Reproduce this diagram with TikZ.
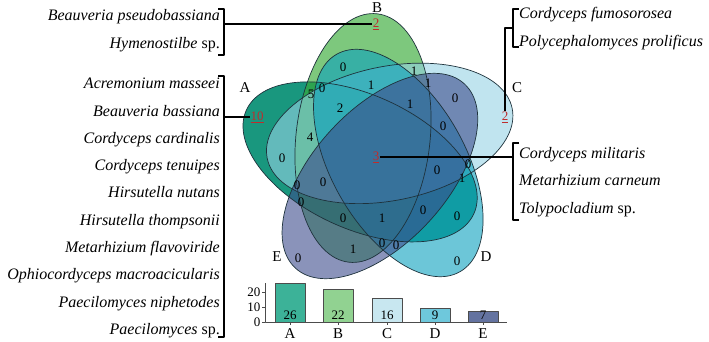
\documentclass[tikz,border=0pt]{standalone}
\usepackage{fontspec}
\setmainfont{Liberation Serif}
\usetikzlibrary{positioning}

\definecolor{setA}{RGB}{0,140,112}
\definecolor{setB}{RGB}{55,170,55}
\definecolor{setC}{RGB}{150,210,228}
\definecolor{setD}{RGB}{10,160,190}
\definecolor{setE}{RGB}{60,75,140}
\definecolor{barA}{RGB}{60,178,152}
\definecolor{barB}{RGB}{145,210,145}
\definecolor{barC}{RGB}{200,231,240}
\definecolor{barD}{RGB}{110,200,220}
\definecolor{barE}{RGB}{100,115,160}
\definecolor{outl}{RGB}{30,50,60}
\definecolor{hitred}{RGB}{190,45,45}

\begin{document}
\begin{tikzpicture}[x=1pt,y=-1pt,line join=round,
  venn/.style={draw=outl,line width=0.7pt},
  cnt/.style={font=\fontsize{13}{15}\selectfont,inner sep=0.5pt},
  hit/.style={cnt,text=hitred},
  spname/.style={font=\fontsize{16}{18}\selectfont\itshape,inner sep=0pt,
    text height=11pt,text depth=3.5pt},
  setlab/.style={font=\fontsize{15}{17}\selectfont,inner sep=0pt},
  brk/.style={line width=1.3pt,black},
  barline/.style={draw=black!70,line width=0.6pt}]
\useasboundingbox (0,0) rectangle (709,342);

\foreach \cx/\cy/\rot/\col/\op in {360.1/161.9/-24.5/setA/0.9, 363/138/83.5/setB/0.65,
    389.7/133.4/11.5/setC/0.6, 398.3/163/-60.5/setD/0.6, 379.9/176/47.5/setE/0.6}
  \fill[\col,opacity=\op,rotate around={\rot:(\cx,\cy)}] (\cx,\cy) ellipse [x radius=125pt,y radius=67pt];
\foreach \cx/\cy/\rot in {360.1/161.9/-24.5, 363/138/83.5, 389.7/133.4/11.5,
    398.3/163/-60.5, 379.9/176/47.5}
  \draw[venn,rotate around={\rot:(\cx,\cy)}] (\cx,\cy) ellipse [x radius=125pt,y radius=67pt];

\node[setlab] (labA) at (245,88) {A};
\node[setlab] (labB) at (377,8) {B};
\node[setlab] (labC) at (517,88) {C};
\node[setlab] (labD) at (486,257) {D};
\node[setlab] (labE) at (277,257) {E};

\foreach \x/\y/\v [count=\i] in {343/67/0, 414/71/1, 428/83/1, 311/94/5, 322/88/0,
    371/85/1, 455/98/0, 340/108/2, 410/104/1, 443/126/0, 310/137/4, 282/158/0,
    437/170/0, 468/164/0, 462/178/1, 297/185/0, 323/182/0, 301/202/0, 343/218/0,
    382/218/1, 423/210/0, 457/216/0, 353/249/1, 382/243/0, 396/245/0, 298/258/0,
    457/261/0}
  \node[cnt] (r\i) at (\x,\y) {\v};

\node[hit] (hA) at (257,117) {\underline{10}};
\node[hit] (hB) at (376,24) {\underline{2}};
\node[hit] (hC) at (505,117) {\underline{2}};
\node[hit] (hM) at (376,157) {\underline{3}};

\node[spname,anchor=east] (tl1) at (220,17) {Beauveria pseudobassiana};
\node[spname,anchor=east] (tl2) at (220,45) {Hymenostilbe\/ {\upshape sp.}};
\foreach \t [count=\i] in {Acremonium masseei, Beauveria bassiana, Cordyceps cardinalis,
    Cordyceps tenuipes, Hirsutella nutans, Hirsutella thompsonii, Metarhizium flavoviride,
    Ophiocordyceps macroacicularis, Paecilomyces niphetodes, Paecilomyces\/ {\upshape sp.}}
  \node[spname,anchor=east] (sa\i) at (220,{85+27.3*(\i-1)}) {\t};
\node[spname,anchor=west] (tr1) at (519,15) {Cordyceps fumosorosea};
\node[spname,anchor=west] (tr2) at (519,43) {Polycephalomyces prolificus};
\node[spname,anchor=west] (br1) at (519,155) {Cordyceps militaris};
\node[spname,anchor=west] (br2) at (519,182) {Metarhizium carneum};
\node[spname,anchor=west] (br3) at (519,210) {Tolypocladium\/ {\upshape sp.}};

\coordinate (kTL) at (224,24);
\coordinate (kLL) at (224,117);
\coordinate (kTR) at (513,28);
\coordinate (kBR) at (513,157);
\draw[brk] (218,9) -- (224,9) -- (224,55) -- (218,55);
\draw[brk] (218,76) -- (224,76) -- (224,337) -- (218,337);
\draw[brk] (519,9) -- (513,9) -- (513,47) -- (519,47);
\draw[brk] (519,143) -- (513,143) -- (513,220) -- (519,220);
\draw[brk] (kTL) -- (hB.west);
\draw[brk] (kLL) -- (hA.west);
\draw[brk] (kTR) -| (hC.north);
\draw[brk] (hM.east) -- (kBR);

\draw[barline] (265,283) -- (265,322) -- (507,322);
\foreach \t/\yy in {20/292, 10/307, 0/322} {
  \draw[barline] (262,\yy) -- (265,\yy);
  \node[cnt,anchor=east] (yt\t) at (261,\yy) {\t};
}
\foreach \n/\v/\xx/\col [count=\i] in {A/26/290/barA, B/22/338/barB, C/16/387/barC,
    D/9/435/barD, E/7/483/barE} {
  \draw[barline,fill=\col] ({\xx-15},322) rectangle ({\xx+15},{322-1.5*\v});
  \draw[barline] (\xx,322) -- (\xx,325);
  \node[cnt] (bv\i) at (\xx,315) {\v};
  \node[setlab] (bx\i) at (\xx,334) {\n};
}
\end{tikzpicture}
\end{document}
